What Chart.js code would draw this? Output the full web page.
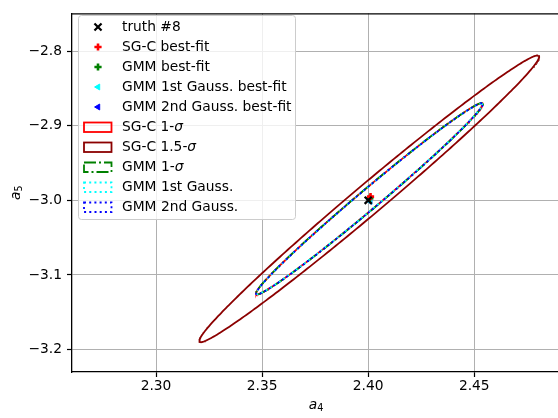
<!DOCTYPE html>
<html>
<head>
<meta charset="utf-8">
<script src="https://cdn.jsdelivr.net/npm/chart.js@4/dist/chart.umd.min.js"></script>
<style>
  html, body { margin: 0; padding: 0; background: #fff; overflow: hidden; }
  #wrap { position: relative; width: 580px; height: 418px; }
</style>
</head>
<body>
<div id="wrap"><canvas id="c" width="580" height="418"></canvas></div>
<script>
// axis ticks and limits
const xTicks = [2.30, 2.35, 2.40, 2.45];
const yTicks = [-3.2, -3.1, -3.0, -2.9, -2.8];
const xLimits = [2.2604, 2.4904];
const yLimits = [-3.2301, -2.7493];

// truth and best-fit points
const pointLabels = ['truth #8', 'SG-C best-fit', 'GMM best-fit', 'GMM 1st Gauss. best-fit', 'GMM 2nd Gauss. best-fit'];
const pointX = [2.4000, 2.4011, 2.4008, 2.4009, 2.4009];
const pointY = [-3.0000, -2.9950, -2.9970, -3.0012, -3.0014];

// confidence ellipses: centre, semi-axes and tilt (degrees), in data units
const ellipseLabels = ['SG-C 1-σ', 'SG-C 1.5-σ', 'GMM 1-σ', 'GMM 1st Gauss.', 'GMM 2nd Gauss.'];
const ellipseCx = [2.4005, 2.4005, 2.4006, 2.4005, 2.4006];
const ellipseCy = [-2.9979, -2.9979, -2.9978, -2.9980, -2.9979];
const ellipseA = [0.1386, 0.2079, 0.1390, 0.1382, 0.1388];
const ellipseB = [0.00669, 0.01003, 0.0068, 0.0066, 0.0067];
const ellipseAngle = [67.5, 67.5, 67.5, 67.5, 67.5];

const FONT = '"DejaVu Sans", "Liberation Sans", sans-serif';
const FS = 13.8;

// outline of an ellipse patch as a closed polyline
function ellipseOutline(i, n = 360) {
  const th = ellipseAngle[i] * Math.PI / 180;
  const c = Math.cos(th), s = Math.sin(th);
  const pts = [];
  for (let k = 0; k <= n; k++) {
    const t = 2 * Math.PI * k / n;
    const u = ellipseA[i] * Math.cos(t), v = ellipseB[i] * Math.sin(t);
    pts.push({ x: ellipseCx[i] + u * c - v * s, y: ellipseCy[i] + u * s + v * c });
  }
  return pts;
}

const pointStyles = [
  { color: '#000000', style: 'crossRot', radius: 5, width: 2.2, rotation: 0 },
  { color: '#ff0000', style: 'cross', radius: 3.6, width: 2.6, rotation: 0 },
  { color: '#008000', style: 'cross', radius: 3.6, width: 2.6, rotation: 0 },
  { color: '#00ffff', style: 'triangle', radius: 3.4, width: 1, rotation: -90 },
  { color: '#0000ff', style: 'triangle', radius: 3.4, width: 1, rotation: -90 }
];
const ellipseStyles = [
  { color: '#ff0000', dash: [] },
  { color: '#8b0000', dash: [] },
  { color: '#008000', dash: [12, 3, 2, 3] },
  { color: '#00ffff', dash: [2, 3.2] },
  { color: '#0000ff', dash: [2, 3.2] }
];

const datasets = [];
pointLabels.forEach((lab, i) => {
  const st = pointStyles[i];
  datasets.push({
    label: lab,
    kind: 'marker',
    data: [{ x: pointX[i], y: pointY[i] }],
    showLine: false,
    pointStyle: st.style,
    pointRadius: st.radius,
    pointHoverRadius: st.radius,
    pointRotation: st.rotation,
    pointBorderWidth: st.width,
    pointBorderColor: st.color,
    pointBackgroundColor: st.color,
    order: 0
  });
});
ellipseLabels.forEach((lab, i) => {
  const st = ellipseStyles[i];
  datasets.push({
    label: lab,
    kind: 'patch',
    data: ellipseOutline(i),
    showLine: true,
    borderColor: st.color,
    borderWidth: 1.8,
    borderDash: st.dash,
    pointRadius: 0,
    pointHoverRadius: 0,
    tension: 0,
    fill: false,
    order: 5 - i
  });
});

function drawRichText(ctx, text, x, y) {
  // σ is set in italics, the rest upright
  const parts = text.split('σ');
  let cx = x;
  parts.forEach((p, k) => {
    ctx.font = FS + 'px ' + FONT;
    ctx.fillText(p, cx, y);
    cx += ctx.measureText(p).width;
    if (k < parts.length - 1) {
      ctx.font = 'italic ' + FS + 'px ' + FONT;
      ctx.fillText('σ', cx, y);
      cx += ctx.measureText('σ').width;
    }
  });
}

const framePlugin = {
  id: 'frame',
  afterDatasetsDraw(chart) {
    const { ctx, chartArea: a } = chart;
    ctx.save();
    ctx.strokeStyle = '#000';
    ctx.lineWidth = 1.3;
    ctx.beginPath();
    ctx.moveTo(a.left, a.top + 0.5);
    ctx.lineTo(a.right, a.top + 0.5);
    ctx.stroke();
    ctx.restore();
  },
  afterDraw(chart) {
    const { ctx, chartArea: a } = chart;
    ctx.save();
    ctx.fillStyle = '#000';
    ctx.textBaseline = 'middle';
    ctx.textAlign = 'left';
    const sub = (FS * 0.7).toFixed(1) + 'px ' + FONT;
    const ital = 'italic ' + FS + 'px ' + FONT;
    // x label a_4
    const midX = (a.left + a.right) / 2;
    ctx.font = ital;
    const wa = ctx.measureText('a').width;
    ctx.font = sub;
    const w4 = ctx.measureText('4').width;
    let sx = midX - (wa + w4) / 2;
    ctx.font = ital;
    ctx.fillText('a', sx, 405);
    ctx.font = sub;
    ctx.fillText('4', sx + wa, 408.5);
    // y label a_5
    ctx.translate(17, (a.top + a.bottom) / 2);
    ctx.rotate(-Math.PI / 2);
    ctx.font = ital;
    const wa2 = ctx.measureText('a').width;
    ctx.font = sub;
    const w5 = ctx.measureText('5').width;
    sx = -(wa2 + w5) / 2;
    ctx.font = ital;
    ctx.fillText('a', sx, -1);
    ctx.font = sub;
    ctx.fillText('5', sx + wa2, 2.5);
    ctx.restore();

    // legend box
    ctx.save();
    const bx = 78.5, by = 15.5, bw = 217, bh = 204;
    ctx.beginPath();
    ctx.roundRect(bx, by, bw, bh, 3);
    ctx.fillStyle = 'rgba(255,255,255,0.8)';
    ctx.fill();
    ctx.strokeStyle = '#cccccc';
    ctx.lineWidth = 1;
    ctx.stroke();
    const rowY0 = 27, rowStep = 20, markX = 98, textX = 122;
    chart.data.datasets.forEach((ds, i) => {
      const yy = rowY0 + rowStep * i;
      if (ds.kind === 'marker') {
        ctx.save();
        ctx.strokeStyle = ds.pointBorderColor;
        ctx.fillStyle = ds.pointBackgroundColor;
        ctx.lineWidth = ds.pointBorderWidth;
        Chart.helpers.drawPoint(ctx, {
          pointStyle: ds.pointStyle,
          radius: ds.pointRadius,
          rotation: ds.pointRotation,
          borderWidth: ds.pointBorderWidth
        }, markX, yy);
        ctx.restore();
      } else {
        ctx.save();
        ctx.strokeStyle = ds.borderColor;
        ctx.lineWidth = ds.borderWidth;
        ctx.setLineDash(ds.borderDash);
        ctx.strokeRect(84, yy - 4.5, 27.5, 9.5);
        ctx.restore();
      }
      ctx.fillStyle = '#000';
      ctx.textAlign = 'left';
      ctx.textBaseline = 'middle';
      drawRichText(ctx, ds.label, textX, yy);
    });
    ctx.restore();
  }
};

const axisCommon = {
  type: 'linear',
  grid: { color: '#b0b0b0', lineWidth: 1, drawTicks: true, tickLength: 5, tickColor: '#000', tickWidth: 1.2 },
  border: { display: true, color: '#000', width: 1.3 }
};

new Chart(document.getElementById('c'), {
  type: 'scatter',
  data: { datasets },
  options: {
    responsive: false,
    animation: false,
    devicePixelRatio: 1,
    events: [],
    layout: { padding: { left: 0, right: 20, top: 9, bottom: 0 } },
    plugins: { legend: { display: false }, tooltip: { enabled: false } },
    scales: {
      x: Object.assign({}, axisCommon, {
        min: xLimits[0], max: xLimits[1],
        afterBuildTicks: s => { s.ticks = xTicks.map(v => ({ value: v })); },
        afterFit: s => { s.height = 46; },
        ticks: {
          font: { family: FONT, size: FS }, color: '#000', padding: 1, maxRotation: 0,
          callback: v => v.toFixed(2)
        }
      }),
      y: Object.assign({}, axisCommon, {
        min: yLimits[0], max: yLimits[1],
        afterBuildTicks: s => { s.ticks = yTicks.map(v => ({ value: v })); },
        afterFit: s => { s.width = 72; },
        ticks: {
          font: { family: FONT, size: FS }, color: '#000', padding: 5,
          callback: v => v.toFixed(1).replace('-', '\u2212')
        }
      })
    }
  },
  plugins: [framePlugin]
});
</script>
</body>
</html>
